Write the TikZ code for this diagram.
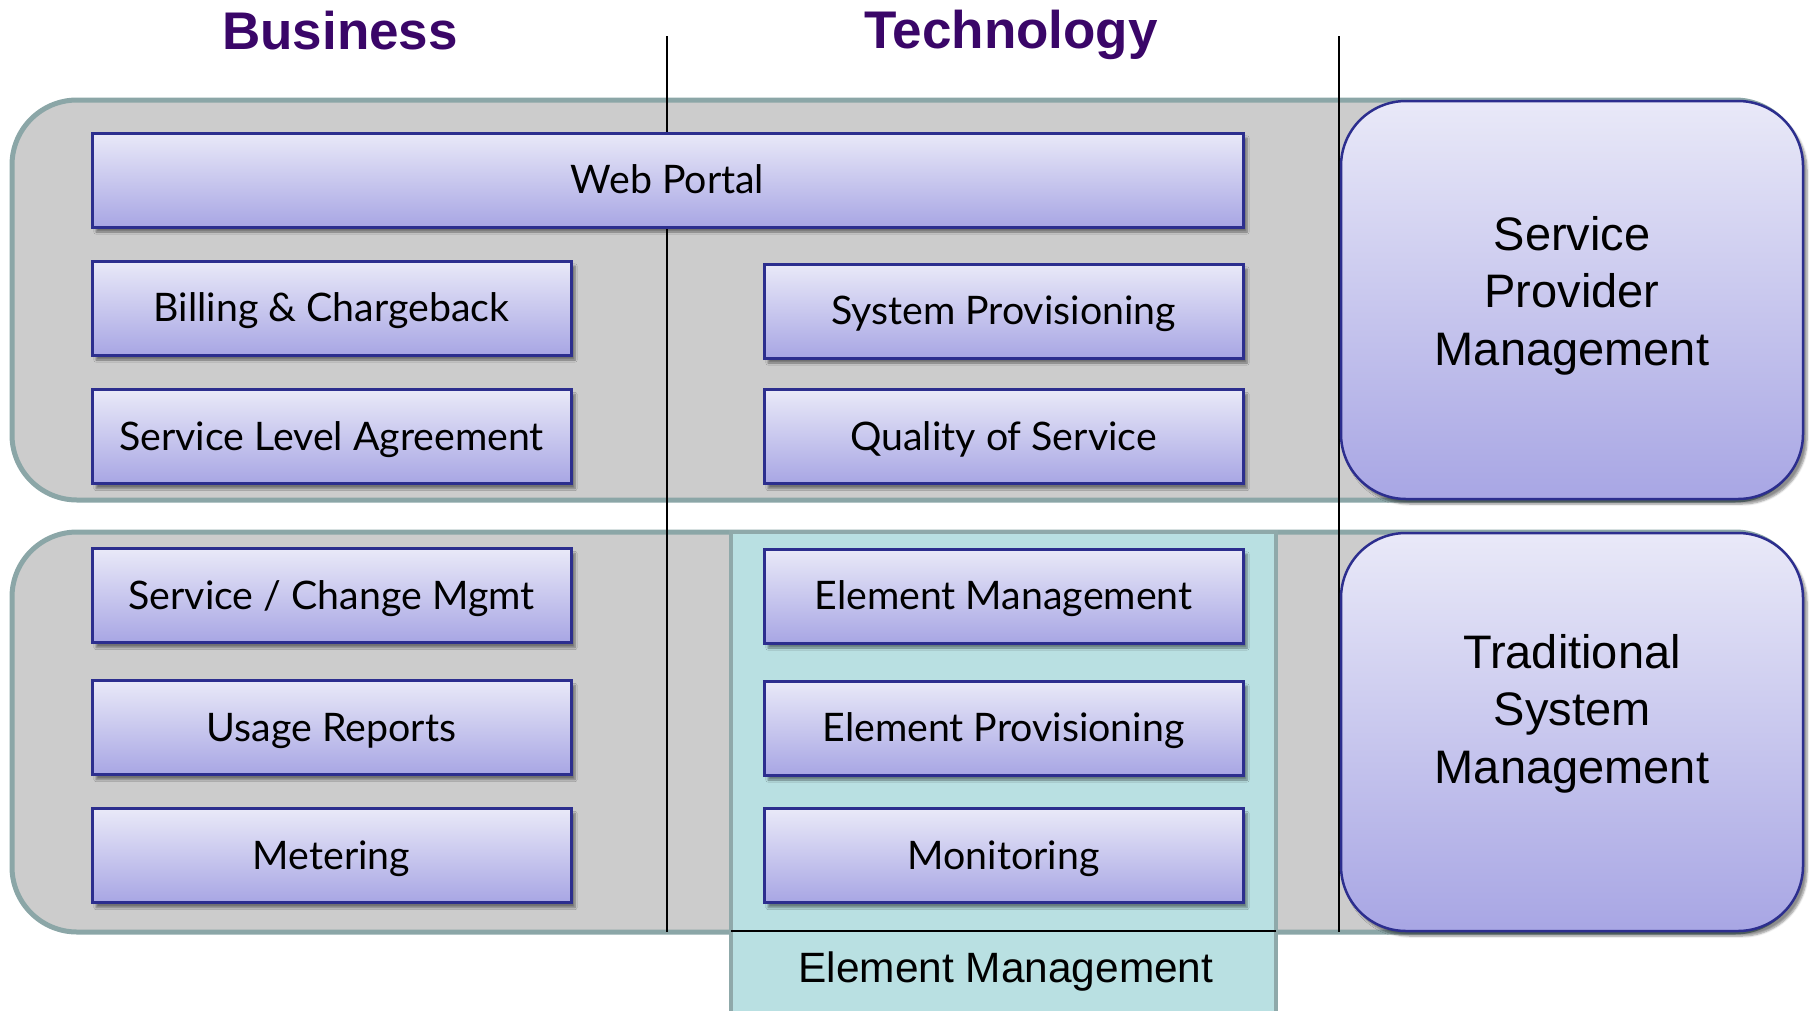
\documentclass[tikz,border=0pt]{standalone}
\usepackage{fontspec}
\setmainfont{Liberation Sans}
\newfontfamily\gillfont{Lato}
\usetikzlibrary{shadows.blur}
\definecolor{titlepurple}{RGB}{58,6,104}
\definecolor{grayfill}{RGB}{204,204,204}
\definecolor{grayedge}{RGB}{139,166,167}
\definecolor{tealfill}{RGB}{185,224,226}
\definecolor{tealedge}{RGB}{143,169,170}
\definecolor{boxtop}{RGB}{233,233,248}
\definecolor{boxbot}{RGB}{168,166,228}
\definecolor{boxedge}{RGB}{44,46,142}
\begin{document}
\begin{tikzpicture}[x=1pt,y=-1pt,
  graybox/.style={draw=grayedge, line width=5pt, fill=grayfill, rounded corners=65pt},
  tealbox/.style={draw=tealedge, line width=4pt, fill=tealfill},
  vline/.style={draw=black, line width=2pt},
  hline/.style={draw=black, line width=2.5pt},
  sbox/.style={draw=boxedge, line width=3pt, top color=boxtop, bottom color=boxbot,
    minimum width=479pt, minimum height=94pt, inner sep=0pt,
    text height=27.5pt, text depth=0pt,
    font=\gillfont\fontsize{39.3}{45}\selectfont,
    blur shadow={shadow xshift=4pt, shadow yshift=-5pt, shadow blur steps=6, shadow opacity=45}},
  rbox/.style={draw=boxedge, line width=2.5pt, top color=boxtop, bottom color=boxbot,
    minimum width=462pt, minimum height=398pt, rounded corners=65pt, inner sep=0pt,
    blur shadow={shadow xshift=4pt, shadow yshift=-5pt, shadow blur steps=6, shadow opacity=45}},
  rtext/.style={font=\fontsize{47}{57.5}\selectfont, align=center, inner sep=0pt, anchor=north},
  title/.style={font=\bfseries\fontsize{53}{60}\selectfont, text=titlepurple, anchor=base, inner sep=0pt}
]
\useasboundingbox (0,0) rectangle (1810,1010);

% titles
\node[title] (biz) at (340,49) {Business};
\node[title] (tech) at (1011,48) {Technology};

% background groups
\draw[graybox] (12,100) rectangle (1800,500);
\draw[graybox] (12,532) rectangle (1800,932);
\draw[tealbox] (731,532) rectangle (1276,1016);

% divider lines
\coordinate (v1t) at (667,36);
\coordinate (v1b) at (667,932);
\coordinate (v2t) at (1339,36);
\coordinate (v2b) at (1339,932);
\draw[vline] (v1t) -- (v1b);
\draw[vline] (v2t) -- (v2b);
\coordinate (hl) at (731,931);
\coordinate (hr) at (1276,931);
\draw[hline] (hl) -- (hr);

% small boxes
\node[sbox, minimum width=1151pt] (web) at (667.5,180) {Web Portal};
\node[sbox] (bill) at (331.5,308) {Billing \& Chargeback};
\node[sbox] (sla) at (331.5,436.5) {Service Level Agreement};
\node[sbox] (sysprov) at (1003.5,311) {System Provisioning};
\node[sbox] (qos) at (1003.5,436.5) {Quality of Service};
\node[sbox] (chg) at (331.5,595.5) {Service / Change Mgmt};
\node[sbox] (usage) at (331.5,727.5) {Usage Reports};
\node[sbox] (meter) at (331.5,855.5) {Metering};
\node[sbox] (elmgmt) at (1003.5,596) {Element Management};
\node[sbox] (elprov) at (1003.5,728) {Element Provisioning};
\node[sbox] (mon) at (1003.5,855.5) {Monitoring};

% bottom label
\node[anchor=base, inner sep=0pt, font=\fontsize{42.4}{48}\selectfont] (emlabel) at (1006,982) {Element Management};

% right boxes
\node[rbox] (spm) at (1572,300) {};
\node[rtext] (spmtext) at (1572,216) {Service\\Provider\\Management};
\node[rbox] (tsm) at (1572,732) {};
\node[rtext] (tsmtext) at (1572,634) {Traditional\\System\\Management};
\end{tikzpicture}
\end{document}
